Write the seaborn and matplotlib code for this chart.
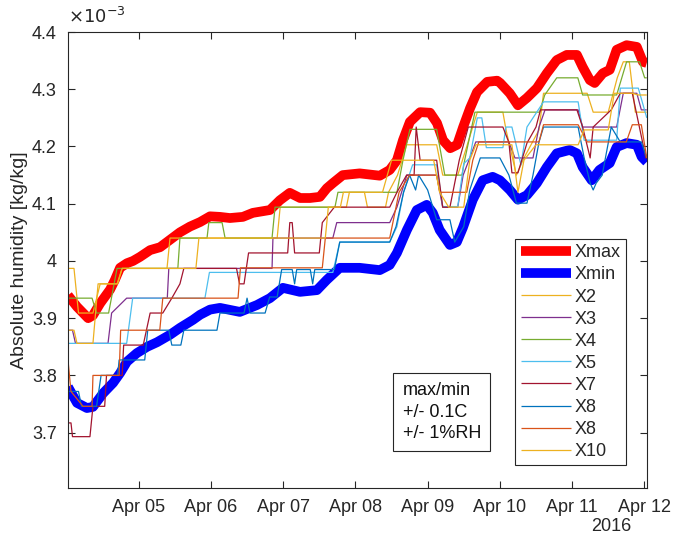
import numpy as np
import pandas as pd
import matplotlib
matplotlib.use("Agg")
import matplotlib.pyplot as plt
import matplotlib.dates as mdates
from matplotlib.ticker import FuncFormatter, FixedLocator
import seaborn as sns

# ---- data: hours since 2016-04-04 00:00, absolute humidity in 1e-3 kg/kg ----
xmax_h = [0.5, 3.5, 7.2, 8.8, 11.2, 14.5, 16.1, 17.8, 20.1, 22.1, 24.4, 27.8, 31.1, 34.4, 37.7,
          41.0, 44.4, 47.7, 51.0, 54.3, 58.6, 61.9, 67.6, 70.9, 74.2, 77.6, 80.9, 84.2, 86.5,
          88.5, 91.8, 97.4, 104.1, 107.4, 109.8, 111.8, 114.1, 117.5, 120.8, 123.1, 125.1,
          127.5, 129.8, 131.8, 134.1, 136.4, 139.8, 143.1, 144.1, 147.3, 150.0, 153.0, 156.3,
          159.6, 162.9, 166.2, 169.6, 171.5, 173.9, 175.5, 178.2, 180.5, 182.8, 186.1, 189.5,
          191.5, 192.8]
xmax_v = [3.94, 3.92, 3.90, 3.905, 3.926, 3.95, 3.967, 3.988, 3.996, 4.0, 4.007, 4.019, 4.024,
          4.037, 4.05, 4.06, 4.068, 4.078, 4.077, 4.075, 4.077, 4.084, 4.089, 4.106, 4.119, 4.11,
          4.11, 4.112, 4.127, 4.136, 4.15, 4.153, 4.149, 4.159, 4.176, 4.211, 4.243, 4.26, 4.259,
          4.241, 4.211, 4.197, 4.203, 4.234, 4.267, 4.295, 4.313, 4.315, 4.311, 4.293, 4.272,
          4.285, 4.302, 4.328, 4.351, 4.36, 4.36, 4.339, 4.316, 4.311, 4.328, 4.334, 4.369,
          4.377, 4.374, 4.348, 4.346]

xmin_h = [0.5, 3.5, 6.8, 8.8, 12.2, 15.5, 17.8, 20.1, 23.4, 26.8, 30.1, 34.4, 37.7, 42.0, 44.4,
          47.7, 51.0, 57.6, 63.3, 67.6, 71.9, 77.6, 83.2, 86.5, 90.8, 97.4, 104.1, 107.4, 109.8,
          113.1, 116.4, 119.7, 121.7, 124.0, 127.4, 129.7, 131.7, 135.0, 138.3, 141.6, 144.0,
          147.3, 150.0, 153.0, 156.3, 159.6, 162.9, 167.2, 169.6, 171.5, 174.5, 177.1, 180.5,
          182.8, 186.1, 189.5, 191.1, 192.8]
xmin_v = [3.78, 3.752, 3.743, 3.745, 3.769, 3.787, 3.804, 3.824, 3.839, 3.85, 3.858, 3.871,
          3.883, 3.897, 3.906, 3.915, 3.918, 3.911, 3.923, 3.935, 3.953, 3.946, 3.949, 3.967,
          3.988, 3.988, 3.984, 3.993, 4.014, 4.054, 4.089, 4.098, 4.084, 4.054, 4.028, 4.033,
          4.058, 4.107, 4.141, 4.147, 4.141, 4.124, 4.107, 4.115, 4.136, 4.164, 4.188, 4.194,
          4.188, 4.164, 4.141, 4.159, 4.171, 4.199, 4.206, 4.203, 4.182, 4.173]

x2_h = [0.5, 2.5, 4, 8.8, 11.2, 16.8, 18.5, 33.4, 34.4, 70, 71, 93, 94, 99, 100, 106, 107, 110,
        111.5, 113, 123, 125, 130, 133, 136.5, 145, 146, 149.5, 152, 157, 158.5, 173, 175, 180,
        183, 185, 187, 189, 192.8]
x2_v = [3.987, 3.987, 3.909, 3.909, 3.96, 3.96, 3.987, 3.987, 4.04, 4.04, 4.094, 4.094, 4.12,
        4.12, 4.094, 4.094, 4.12, 4.15, 4.176, 4.203, 4.203, 4.15, 4.15, 4.2, 4.26, 4.26, 4.23,
        4.15, 4.18, 4.229, 4.293, 4.293, 4.26, 4.26, 4.32, 4.348, 4.348, 4.26, 4.26]

x3_h = [0.5, 2.0, 3.0, 13.8, 15, 20, 33.5, 34, 68.3, 68.6, 88.5, 89.8, 107.4, 109.8, 113.1, 123,
        125, 130, 131.8, 134, 136, 147, 149, 155, 157, 159, 170, 171.5, 182.8, 185, 189.5, 191,
        192.8]
x3_v = [3.879, 3.879, 3.856, 3.856, 3.909, 3.935, 3.935, 3.987, 3.987, 4.04, 4.04, 4.067, 4.067,
        4.094, 4.15, 4.15, 4.094, 4.094, 4.15, 4.18, 4.208, 4.208, 4.18, 4.18, 4.234, 4.264,
        4.264, 4.234, 4.234, 4.293, 4.293, 4.264, 4.264]

x4_h = [0.5, 8.5, 10, 14, 16.8, 37.0, 37.7, 46.7, 47.3, 51.7, 52.7, 68.3, 69.3, 89.2, 90.2, 109.8,
        111.8, 114.1, 123.0, 125.7, 131.4, 132.3, 135.7, 157.2, 158.9, 162.9, 169.9, 171.5,
        182.8, 186.1, 190.4, 192.1, 192.8]
x4_v = [3.935, 3.935, 3.909, 3.909, 3.987, 3.987, 4.04, 4.04, 4.067, 4.067, 4.04, 4.04, 4.094,
        4.094, 4.12, 4.12, 4.176, 4.23, 4.23, 4.15, 4.15, 4.176, 4.26, 4.26, 4.29, 4.32, 4.32,
        4.29, 4.29, 4.348, 4.348, 4.32, 4.32]

x5_h = [0.5, 20, 22, 46, 47.5, 88.5, 90.8, 107.4, 109.8, 112, 115, 123, 125, 130, 132, 134, 136.5,
        138, 139.5, 145, 146, 148, 151, 153, 158.5, 170, 172, 182.8, 184, 190, 192.8]
x5_v = [3.856, 3.856, 3.935, 3.935, 3.98, 3.98, 4.033, 4.033, 4.06, 4.12, 4.168, 4.168, 4.095,
        4.095, 4.17, 4.18, 4.25, 4.25, 4.198, 4.198, 4.234, 4.234, 4.168, 4.234, 4.278, 4.278,
        4.211, 4.211, 4.302, 4.302, 4.25]

x7_h = [0.5, 1.5, 2.0, 7.8, 8.8, 12.7, 13.3, 18.5, 19, 25.5, 27.8, 32, 35, 37.7, 39, 56.5, 57.5,
        59, 60.5, 73.5, 74.2, 75, 75.8, 84, 85, 89, 107.4, 109.8, 113, 115.5, 116.2, 117.5, 123,
        125, 127.4, 130.5, 133.5, 145, 147, 148, 150, 153, 156, 157.5, 169.6, 171.5, 174, 175,
        181, 184, 188, 192.5, 192.8]
x7_v = [3.717, 3.717, 3.693, 3.693, 3.746, 3.746, 3.80, 3.80, 3.853, 3.853, 3.909, 3.909, 3.935,
        3.96, 3.987, 3.987, 3.96, 3.96, 4.014, 4.014, 4.067, 4.067, 4.014, 4.014, 4.067, 4.094,
        4.094, 4.12, 4.15, 4.15, 4.234, 4.176, 4.176, 4.094, 4.094, 4.176, 4.234, 4.234, 4.207,
        4.154, 4.154, 4.206, 4.234, 4.264, 4.264, 4.234, 4.18, 4.234, 4.264, 4.293, 4.293, 4.18,
        4.18]

x8a_h = [0.5, 4, 5, 10, 11.5, 17, 17.5, 26, 27, 34, 35, 38, 39, 50, 51, 59, 60, 61, 66, 67.5, 70,
         71.5, 75, 75.8, 76.5, 81, 81.8, 82.5, 89, 90.8, 107.4, 109.5, 112, 114, 116, 117, 120,
         123, 127.4, 129, 132, 134, 137.5, 144, 147, 149.5, 153, 155, 157, 158.5, 170, 172, 174,
         175, 176, 178, 181, 184, 191, 192.8]
x8a_v = [3.772, 3.772, 3.746, 3.746, 3.80, 3.80, 3.827, 3.827, 3.879, 3.879, 3.853, 3.853,
         3.879, 3.879, 3.909, 3.909, 3.935, 3.909, 3.909, 3.937, 3.937, 3.985, 3.985, 3.96,
         3.985, 3.985, 3.96, 3.985, 3.985, 4.033, 4.033, 4.06, 4.12, 4.15, 4.124, 4.15, 4.124,
         4.072, 4.072, 4.033, 4.06, 4.124, 4.18, 4.18, 4.15, 4.101, 4.101, 4.15, 4.208, 4.234,
         4.234, 4.18, 4.136, 4.124, 4.136, 4.15, 4.234, 4.208, 4.208, 4.18]

x8b_h = [0.5, 1.5, 5.5, 8.5, 8.8, 17.5, 18, 31, 32, 57, 57.8, 85, 86, 107.4, 110.5, 114, 123,
         124, 133, 135, 137, 157, 158.5, 170, 173, 186, 188, 191, 192.8]
x8b_v = [3.827, 3.772, 3.746, 3.746, 3.80, 3.80, 3.879, 3.879, 3.935, 3.935, 3.988, 3.988, 4.04,
         4.04, 4.12, 4.15, 4.15, 4.12, 4.12, 4.176, 4.208, 4.208, 4.238, 4.238, 4.208, 4.208,
         4.238, 4.238, 4.18]

x10_h = [0.5, 2.5, 3.5, 8.8, 10.5, 17, 18.5, 43, 44, 86, 87, 91, 92, 105, 108, 122, 124, 127,
         132, 134, 136, 148, 150, 152, 156, 170, 172, 180, 182, 188, 190, 192.8]
x10_v = [3.879, 3.879, 3.856, 3.856, 3.96, 3.96, 3.987, 3.987, 4.04, 4.04, 4.094, 4.094, 4.12,
         4.12, 4.176, 4.176, 4.12, 4.094, 4.094, 4.176, 4.203, 4.203, 4.12, 4.176, 4.203, 4.203,
         4.229, 4.229, 4.293, 4.293, 4.29, 4.29]

labels = ["Xmax", "Xmin", "X2", "X3", "X4", "X5", "X7", "X8", "X8", "X10"]
series = [(xmax_h, xmax_v), (xmin_h, xmin_v), (x2_h, x2_v), (x3_h, x3_v), (x4_h, x4_v),
          (x5_h, x5_v), (x7_h, x7_v), (x8a_h, x8a_v), (x8b_h, x8b_v), (x10_h, x10_v)]
colors = ["#FF0000", "#0000FF", "#EDB120", "#7E2F8E", "#77AC30", "#4DBEEE", "#A2142F",
          "#0072BD", "#D95319", "#EDB120"]
widths = [7.0, 7.0] + [0.9] * 8

# ---- figure ----
sns.set_style("ticks")
plt.rcParams["font.family"] = ["Liberation Sans", "DejaVu Sans"]
plt.rcParams["font.size"] = 13

fig = plt.figure(figsize=(6.73, 5.43), dpi=100)
ax = fig.add_axes([0.101, 0.101, 0.860, 0.840])

base = pd.Timestamp("2016-04-04 00:00")
for (h, v), lab, c, w in zip(series, labels, colors, widths):
    df = pd.DataFrame({"t": base + pd.to_timedelta(np.array(h), unit="h"),
                       "v": np.array(v) * 1e-3})
    sns.lineplot(data=df, x="t", y="v", ax=ax, color=c, lw=w, label=lab,
                 sort=False, estimator=None, solid_capstyle="butt")

ax.set_xlim(base + pd.Timedelta(hours=0.5), base + pd.Timedelta(hours=192.8))
ax.set_ylim(3.603e-3, 4.4e-3)

ax.xaxis.set_major_locator(mdates.DayLocator())
ax.xaxis.set_major_formatter(mdates.DateFormatter("%b %d"))
ax.yaxis.set_major_locator(FixedLocator(np.round(np.arange(3.7, 4.41, 0.1), 1) * 1e-3))
ax.yaxis.set_major_formatter(FuncFormatter(lambda val, p: f"{round(val * 1e3, 1):g}"))

ax.set_xlabel("")
ax.set_ylabel("Absolute humidity [kg/kg]", fontsize=14, color="#262626", labelpad=3)
ax.tick_params(axis="both", direction="in", top=True, right=True, length=5, width=0.8,
               labelsize=13, colors="#262626", pad=8)
for s in ax.spines.values():
    s.set_visible(True)
    s.set_linewidth(0.8)
    s.set_color("#262626")

ax.text(0.0, 1.01, r"$\times10^{-3}$", transform=ax.transAxes, fontsize=13,
        color="#262626", ha="left", va="bottom")
ax.text(0.974, -0.083, "2016", transform=ax.transAxes, fontsize=13, color="#262626",
        ha="right", va="center")

leg = ax.legend(loc="lower right", bbox_to_anchor=(0.965, 0.05), frameon=True, fancybox=False,
                edgecolor="#262626", framealpha=1, handlelength=2.8, labelspacing=0.28,
                borderpad=0.3, handletextpad=0.2, borderaxespad=0, fontsize=13)
leg.get_frame().set_linewidth(0.8)

ax.text(0.578, 0.232, "max/min\n+/- 0.1C\n+/- 1%RH", transform=ax.transAxes, fontsize=13,
        va="top", ha="left", linespacing=1.35, color="#111111",
        bbox=dict(boxstyle="square,pad=0.5", fc="white", ec="#262626", lw=0.8))

fig.savefig("out.png", dpi=100)
